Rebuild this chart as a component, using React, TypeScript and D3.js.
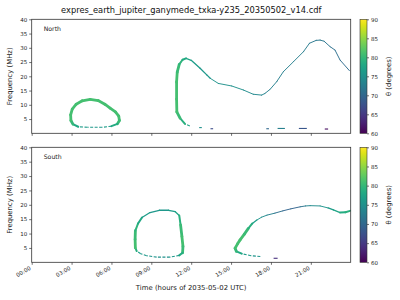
import { useEffect, useRef } from "react";
import * as d3 from "d3";

const title = "expres_earth_jupiter_ganymede_txka-y235_20350502_v14.cdf";
const hourTicks = [0, 3, 6, 9, 12, 15, 18, 21];
const freqTicks = [5, 10, 15, 20, 25, 30, 35, 40];
const thetaTicks = [60, 65, 70, 75, 80, 85, 90];

// [hour, frequency MHz, theta deg]
const northLoop: [number, number, number][] = [
  [3.5, 2.3, 77], [3.1, 3.2, 79], [2.95, 4.5, 81], [2.93, 6.5, 81], [3.05, 8.5, 81],
  [3.35, 10.2, 81], [3.8, 11.4, 81], [4.4, 11.9, 81], [5.0, 11.5, 81], [5.5, 10.2, 81],
  [5.9, 8.8, 81], [6.3, 7.5, 81], [6.55, 6.0, 81], [6.6, 4.5, 81], [6.45, 3.3, 80],
  [6.0, 2.5, 77], [5.3, 2.1, 76], [4.2, 2.1, 76], [3.5, 2.3, 77],
];

const northArc: [number, number, number][] = [
  [11.9, 2.6, 77], [11.53, 3.3, 78], [11.16, 5.3, 80], [10.92, 7.5, 81], [10.9, 12, 81],
  [10.9, 18, 81], [10.95, 21.5, 81], [11.1, 24.2, 80], [11.35, 25.8, 79], [11.61, 26.3, 78],
  [12.0, 25.6, 77], [12.67, 22.8, 76], [13.17, 20.5, 76], [13.43, 19.3, 76], [14.04, 17.5, 75],
  [15.05, 16.6, 75], [15.92, 15.2, 75], [16.67, 13.7, 74], [17.3, 13.4, 74], [17.55, 14.0, 73],
  [17.93, 15.4, 73], [18.43, 18.1, 73], [18.93, 21.6, 73], [19.69, 25.1, 73], [20.44, 28.6, 73],
  [20.9, 31.6, 72], [21.4, 32.6, 72], [21.7, 32.7, 72], [22.0, 32.3, 72], [22.45, 30.4, 71],
  [22.82, 29.2, 71], [23.2, 25.7, 71], [23.9, 22.0, 70],
];

// [start hour, end hour, frequency MHz, theta deg]
const northDashes: [number, number, number, number][] = [
  [12.6, 12.8, 2.0, 75], [13.45, 13.65, 1.6, 67], [17.65, 17.85, 1.6, 70],
  [18.5, 19.05, 1.7, 73], [20.1, 20.7, 1.7, 68], [22.05, 22.3, 1.5, 61],
];

const southLoop: [number, number, number][] = [
  [7.9, 3.9, 77], [7.8, 5.0, 81], [7.78, 8.0, 81], [7.8, 11.0, 80], [8.0, 13.5, 79],
  [8.3, 15.6, 77], [8.9, 17.3, 76], [9.6, 18.1, 76], [10.3, 18.1, 76], [10.8, 17.6, 77],
  [11.1, 16.3, 78], [11.2, 13.0, 80], [11.3, 9.0, 81], [11.38, 5.5, 81], [11.35, 3.3, 80],
  [11.1, 2.4, 77], [10.4, 1.8, 75], [9.4, 1.8, 75], [8.65, 2.3, 76], [8.2, 3.0, 76], [7.9, 3.9, 77],
];

const southArc: [number, number, number][] = [
  [17.2, 2.0, 75], [16.5, 2.3, 76], [15.8, 3.0, 77], [15.4, 3.8, 79], [15.3, 4.9, 81],
  [15.5, 6.5, 81], [15.68, 7.8, 81], [16.0, 9.8, 81], [16.3, 11.8, 80], [16.6, 13.5, 78],
  [16.94, 14.7, 76], [17.3, 15.7, 75], [17.7, 16.4, 74], [18.3, 17.1, 72], [18.9, 17.9, 70],
  [19.5, 18.6, 69], [20.2, 19.3, 70], [20.6, 19.6, 73], [20.95, 19.7, 74], [21.7, 19.6, 75],
  [22.3, 18.9, 76], [22.7, 18.2, 77], [23.2, 17.3, 78], [23.6, 17.4, 79], [23.95, 17.9, 79],
];

const southDashes: [number, number, number, number][] = [
  [18.2, 18.5, 1.4, 64],
];

const panels = [
  { label: "North", curves: [northLoop, northArc], dashes: northDashes, top: 19.3, bottom: 133.3 },
  { label: "South", curves: [southLoop, southArc], dashes: southDashes, top: 147.3, bottom: 262.3 },
];

const FONT = "DejaVu Sans, sans-serif";

export default function App() {
  const svgRef = useRef<SVGSVGElement | null>(null);

  useEffect(() => {
    if (!svgRef.current) return;
    const svg = d3.select(svgRef.current);
    svg.selectAll("*").remove();

    const left = 31.7;
    const right = 350.7;
    const cbX = 360;
    const cbW = 7;

    const x = d3.scaleLinear().domain([0, 24]).range([left, right]);
    const color = (t: number) => d3.interpolateViridis((t - 60) / 30);
    const widthFor = (t: number) => (t >= 80 ? 2.8 : t >= 78 ? 2.0 : t >= 76 ? 1.3 : 0.95);

    // gradient for colorbar
    const defs = svg.append("defs");
    const grad = defs
      .append("linearGradient")
      .attr("id", "viridis")
      .attr("x1", 0).attr("y1", 1).attr("x2", 0).attr("y2", 0);
    d3.range(0, 1.0001, 0.05).forEach((t) => {
      grad.append("stop").attr("offset", t).attr("stop-color", d3.interpolateViridis(t));
    });

    svg
      .append("text")
      .attr("x", (left + right) / 2)
      .attr("y", 13)
      .attr("text-anchor", "middle")
      .attr("font-family", FONT)
      .attr("font-size", 8.3)
      .attr("fill", "#111")
      .text(title);

    panels.forEach((p, pi) => {
      const y = d3.scaleLinear().domain([0, 40]).range([p.bottom, p.top]);
      const g = svg.append("g");

      // marks
      p.curves.forEach((curve) => {
        for (let i = 0; i < curve.length - 1; i++) {
          const a = curve[i];
          const b = curve[i + 1];
          const t = (a[2] + b[2]) / 2;
          const low = a[1] < 4 && b[1] < 4 && t < 78;
          g.append("line")
            .attr("x1", x(a[0]))
            .attr("y1", y(a[1]))
            .attr("x2", x(b[0]))
            .attr("y2", y(b[1]))
            .attr("stroke", color(t))
            .attr("stroke-width", low ? 1.1 : widthFor(t))
            .attr("stroke-dasharray", low ? "3 1.5" : null)
            .attr("stroke-linecap", low ? "butt" : "round");
        }
      });
      p.dashes.forEach((d) => {
        g.append("line")
          .attr("x1", x(d[0]))
          .attr("x2", x(d[1]))
          .attr("y1", y(d[2]))
          .attr("y2", y(d[2]))
          .attr("stroke", color(d[3]))
          .attr("stroke-width", 1.1);
      });

      // frame
      g.append("rect")
        .attr("x", left)
        .attr("y", p.top)
        .attr("width", right - left)
        .attr("height", p.bottom - p.top)
        .attr("fill", "none")
        .attr("stroke", "#333")
        .attr("stroke-width", 0.8);

      // y axis
      const ya = g.append("g").attr("transform", `translate(${left},0)`)
        .call(d3.axisLeft(y).tickValues(freqTicks).tickSize(2.5).tickPadding(2));
      ya.select(".domain").remove();
      ya.selectAll("line").attr("stroke", "#333").attr("stroke-width", 0.7);
      ya.selectAll("text").attr("font-family", FONT).attr("font-size", 5.5).attr("fill", "#222");

      // x axis
      const xa = g.append("g").attr("transform", `translate(0,${p.bottom})`)
        .call(d3.axisBottom(x).tickValues(hourTicks).tickSize(2.5)
          .tickFormat((h) => (pi === 1 ? `${String(h).padStart(2, "0")}:00` : "")));
      xa.select(".domain").remove();
      xa.selectAll("line").attr("stroke", "#333").attr("stroke-width", 0.7);
      xa.selectAll("text")
        .attr("font-family", FONT)
        .attr("font-size", 5.5)
        .attr("fill", "#222")
        .attr("text-anchor", "end")
        .attr("dy", 0)
        .attr("y", 0)
        .attr("transform", "translate(-1,7) rotate(-30)");

      g.append("text")
        .attr("transform", `translate(12,${(p.top + p.bottom) / 2}) rotate(-90)`)
        .attr("text-anchor", "middle")
        .attr("font-family", FONT)
        .attr("font-size", 6.9)
        .attr("fill", "#222")
        .text("Frequency (MHz)");

      g.append("text")
        .attr("x", left + 12)
        .attr("y", p.top + 12)
        .attr("font-family", FONT)
        .attr("font-size", 6.2)
        .attr("fill", "#222")
        .text(p.label);

      // colorbar
      const cy = d3.scaleLinear().domain([60, 90]).range([p.bottom, p.top]);
      g.append("rect")
        .attr("x", cbX)
        .attr("y", p.top)
        .attr("width", cbW)
        .attr("height", p.bottom - p.top)
        .attr("fill", "url(#viridis)")
        .attr("stroke", "#333")
        .attr("stroke-width", 0.6);
      const ca = g.append("g").attr("transform", `translate(${cbX + cbW},0)`)
        .call(d3.axisRight(cy).tickValues(thetaTicks).tickSize(2).tickPadding(2));
      ca.select(".domain").remove();
      ca.selectAll("line").attr("stroke", "#333").attr("stroke-width", 0.7);
      ca.selectAll("text").attr("font-family", FONT).attr("font-size", 5.5).attr("fill", "#222");
      g.append("text")
        .attr("transform", `translate(391,${(p.top + p.bottom) / 2}) rotate(-90)`)
        .attr("text-anchor", "middle")
        .attr("font-family", FONT)
        .attr("font-size", 6.9)
        .attr("fill", "#222")
        .text("θ (degrees)");
    });

    svg
      .append("text")
      .attr("x", (left + right) / 2)
      .attr("y", 290)
      .attr("text-anchor", "middle")
      .attr("font-family", FONT)
      .attr("font-size", 6.9)
      .attr("fill", "#222")
      .text("Time (hours of 2035-05-02 UTC)");
  }, []);

  return (
    <svg
      ref={svgRef}
      width={400}
      height={300}
      style={{ position: "absolute", left: 0, top: 0, background: "#fff" }}
    />
  );
}
